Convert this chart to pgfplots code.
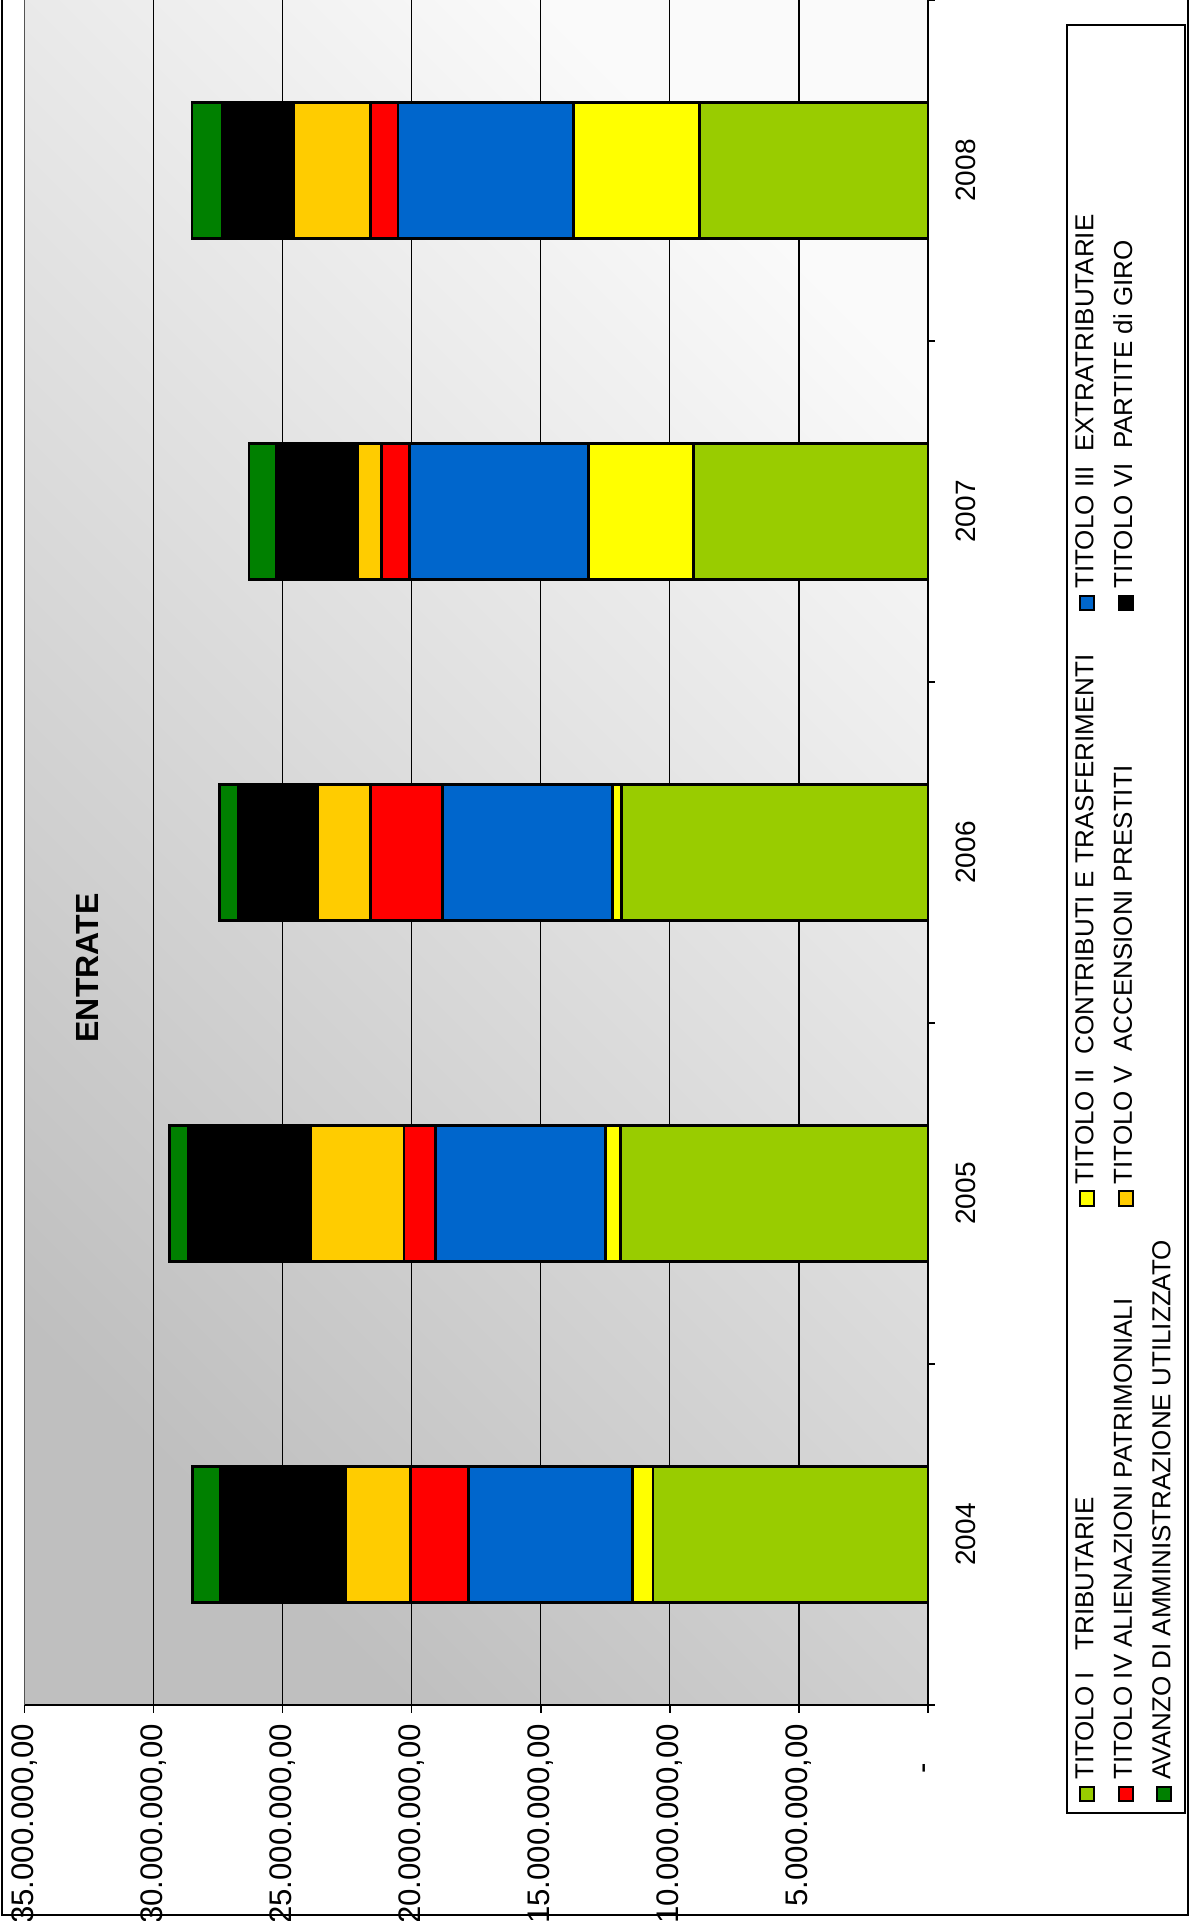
\documentclass[border=0pt]{standalone}
\usepackage{graphicx}
\usepackage{pgfplots}
\pgfplotsset{compat=1.18}
\usepackage{pgfplotstable}
\usepackage{fontspec}
\setmainfont{Liberation Sans}

\definecolor{tI}{HTML}{99CC00}
\definecolor{tII}{HTML}{FFFF00}
\definecolor{tIII}{HTML}{0066CC}
\definecolor{tIV}{HTML}{FF0000}
\definecolor{tV}{HTML}{FFCC00}
\definecolor{tVI}{HTML}{000000}
\definecolor{avz}{HTML}{008000}

% entrate per anno (euro), 0=2004 ... 4=2008
\pgfplotstableread{
x tI       tII     tIII    tIV     tV      tVI     av
0 10650000 810000  6330000 2250000 2510000 4840000 1110000
1 11920000 570000  6580000 1230000 3610000 4750000 710000
2 11880000 330000  6600000 2770000 2060000 3080000 710000
3 9070000  4070000 6940000 1090000 920000  3130000 1080000
4 8850000  4870000 6810000 1070000 2980000 2760000 1170000
}\entrate

\begin{document}
\rotatebox{90}{%
\begin{tikzpicture}
\useasboundingbox (0,0) rectangle (480.25pt,298pt);
\fill[white] (0,0) rectangle (480.25pt,298pt);
\begin{axis}[
  at={(54pt,66pt)}, anchor=south west,
  scale only axis, width=426.25pt, height=225.9pt,
  ybar stacked, bar width=0.4,
  xmin=-0.5, xmax=4.5, ymin=0, ymax=35000000,
  axis lines*=left, axis line style={-, black, line width=0.4pt},
  axis background/.style={shade, top color=black!25, bottom color=black!2, shading angle=45},
  xtick={0,1,2,3,4}, xticklabels={2004,2005,2006,2007,2008},
  minor xtick={-0.5,0.5,1.5,2.5,3.5,4.5},
  major x tick style={draw=none},
  tick align=outside, major tick length=2pt, minor tick length=1.75pt,
  tick style={black, line width=0.4pt},
  ytick={0,5000000,10000000,15000000,20000000,25000000,30000000,35000000},
  yticklabels={{\mbox{-\hspace{9.7pt}}},{\mbox{5.000.000,00}},{\mbox{10.000.000,00}},{\mbox{15.000.000,00}},{\mbox{20.000.000,00}},{\mbox{25.000.000,00}},{\mbox{30.000.000,00}},{\mbox{35.000.000,00}}},
  scaled y ticks=false,
  ymajorgrids, major grid style={black, line width=0.3pt},
  yticklabel style={font=\fontsize{7.8}{9.4}\selectfont, inner sep=0pt, xshift=-2.6pt},
  xticklabel style={font=\fontsize{7}{8.4}\selectfont, inner sep=0pt, yshift=-4.75pt},
  every axis plot/.append style={draw=black, line width=0.7pt},
  legend columns=3,
  legend cell align=left,
  legend style={draw=none, fill=none, at={(-0.0575,-0.162)}, anchor=north west,
    inner sep=0pt, row sep=3.5pt, font=\fontsize{6.5}{7.8}\selectfont,
    nodes={inner sep=0pt},
    /tikz/every odd column/.append style={column sep=1.5pt}},
  legend image code/.code={\draw[#1, line width=0.5pt] (0pt,-1.8pt) rectangle (3.6pt,1.8pt);},
]
\addplot[fill=tI] table[x=x, y=tI] {\entrate};
\addlegendentry{\makebox[143.3pt][l]{TITOLO I\ \ \ TRIBUTARIE}}
\addplot[fill=tII] table[x=x, y=tII] {\entrate};
\addlegendentry{\makebox[143.3pt][l]{TITOLO II\ \ CONTRIBUTI E TRASFERIMENTI}}
\addplot[fill=tIII] table[x=x, y=tIII] {\entrate};
\addlegendentry{\makebox[143.3pt][l]{TITOLO III\ \ EXTRATRIBUTARIE}}
\addplot[fill=tIV] table[x=x, y=tIV] {\entrate};
\addlegendentry{\makebox[143.3pt][l]{TITOLO IV ALIENAZIONI PATRIMONIALI}}
\addplot[fill=tV] table[x=x, y=tV] {\entrate};
\addlegendentry{\makebox[143.3pt][l]{TITOLO V\ \ ACCENSIONI PRESTITI}}
\addplot[fill=tVI] table[x=x, y=tVI] {\entrate};
\addlegendentry{\makebox[143.3pt][l]{TITOLO VI\ \ PARTITE di GIRO}}
\addplot[fill=avz] table[x=x, y=av] {\entrate};
\addlegendentry{\makebox[143.3pt][l]{AVANZO DI AMMINISTRAZIONE UTILIZZATO}}
\draw[black!50, line width=0.5pt] (axis cs:-0.5,35000000) -- (axis cs:4.5,35000000);
\end{axis}
\node[font=\bfseries\fontsize{8}{9.6}\selectfont] at (238.25pt,276pt) {ENTRATE};
\draw[black, line width=0.35pt] (27pt,1.75pt) rectangle (474pt,31.25pt);
\draw[black, line width=0.35pt] (490pt,297.5pt) -- (1.5pt,297.5pt) -- (1.5pt,1pt) -- (490pt,1pt);
\end{tikzpicture}}
\end{document}
